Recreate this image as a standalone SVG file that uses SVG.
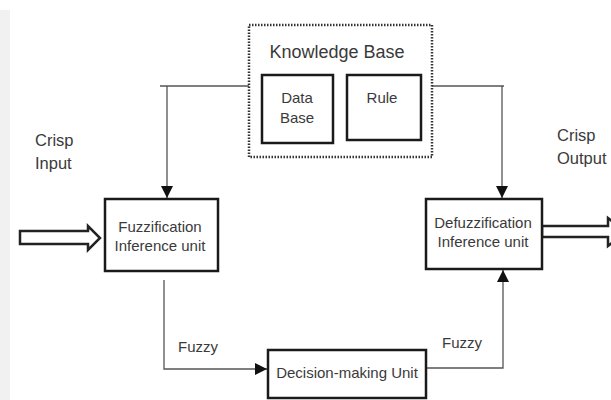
<svg xmlns="http://www.w3.org/2000/svg" width="611" height="400" viewBox="0 0 611 400">
<defs>
<marker id="arr" viewBox="0 0 12 12" refX="12" refY="6" markerWidth="12" markerHeight="12" markerUnits="userSpaceOnUse" orient="auto">
<path d="M0,0 L12,6 L0,12 Z" fill="#111"/>
</marker>
</defs>
<style>
text{font-family:"Liberation Sans",Arial,sans-serif;fill:#3a3a3a;text-anchor:middle;dominant-baseline:central}
.box{fill:#fff;stroke:#1a1a1a;stroke-width:2.5}
.conn{fill:none;stroke:#555;stroke-width:1.3}
.t15{font-size:15px}
.t17{font-size:16.5px}
.hollow{fill:#fff;stroke:#222;stroke-width:2.5;stroke-linejoin:miter}
</style>
<rect x="0" y="0" width="611" height="400" fill="#fff"/>
<rect x="0" y="10" width="10" height="390" fill="#f1f1f1"/>

<g id="connectors">
<path class="conn" d="M249,86 H160 M167,86 V198" marker-end="url(#arr)"/>
<path class="conn" d="M432,86 H504 M502,86 V198" marker-end="url(#arr)"/>
<path class="conn" d="M164,280 V369 H267" marker-end="url(#arr)"/>
<path class="conn" d="M426,368 H503 V270" marker-end="url(#arr)"/>
<polygon class="hollow" points="20,231 88,231 88,226 100,238 88,250 88,244 20,244"/>
<polygon class="hollow" points="542,226 608,226 608,218 626,232 608,246 608,237 542,237"/>
</g>

<g id="knowledge-base">
<rect x="249" y="25" width="183" height="132" fill="#fff" stroke="#333" stroke-width="2.5" stroke-dasharray="1.5 1.5"/>
<text x="337" y="52" style="font-size:18px">Knowledge Base</text>
</g>
<g id="data-base">
<rect class="box" x="262" y="75" width="71" height="68"/>
<text class="t15" x="297" y="97">Data</text>
<text class="t15" x="297" y="117">Base</text>
</g>
<g id="rule">
<rect class="box" x="347" y="75" width="74" height="65"/>
<text class="t15" x="382" y="97">Rule</text>
</g>
<g id="fuzzification">
<rect class="box" x="105" y="199" width="113" height="72"/>
<text class="t15" x="160" y="226">Fuzzification</text>
<text class="t15" x="160" y="245">Inference unit</text>
</g>
<g id="defuzzification">
<rect class="box" x="426" y="199" width="116" height="70"/>
<text class="t15" x="483" y="222">Defuzzification</text>
<text class="t15" x="483" y="241">Inference unit</text>
</g>
<g id="decision">
<rect class="box" x="268" y="350" width="158" height="48"/>
<text class="t15" x="347" y="372">Decision-making Unit</text>
</g>
<g id="labels">
<text class="t17" x="35" y="140" style="text-anchor:start">Crisp</text>
<text class="t17" x="35" y="163" style="text-anchor:start">Input</text>
<text class="t17" x="557" y="135" style="text-anchor:start">Crisp</text>
<text class="t17" x="557" y="158" style="text-anchor:start">Output</text>
<text class="t15" x="198" y="346">Fuzzy</text>
<text class="t15" x="462" y="342">Fuzzy</text>
</g>
</svg>
